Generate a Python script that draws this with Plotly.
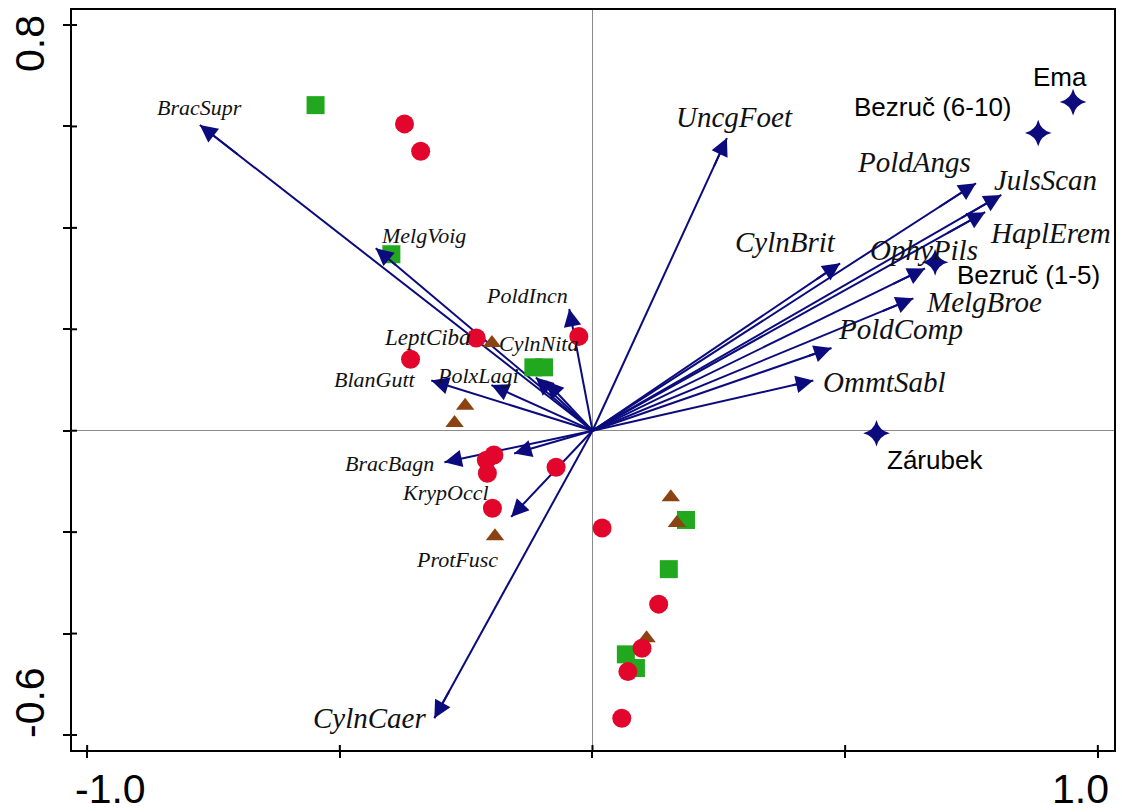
import plotly.graph_objects as go

# ---- species scores (arrow tips) ----
species = ["BracSupr", "MelgVoig", "PoldIncn", "LeptCiba", "CylnNita", "PolxLagi",
           "BlanGutt", "BracBagn", "KrypOccl", "ProtFusc", "CylnCaer", "UncgFoet",
           "PoldAngs", "JulsScan", "HaplErem", "OphyPils", "CylnBrit", "MelgBroe",
           "PoldComp", "OmmtSabl"]
species_x = [-0.777, -0.429, -0.046, -0.112, -0.092, -0.200, -0.319, -0.293, -0.155,
             -0.161, -0.313, 0.266, 0.759, 0.809, 0.777, 0.658, 0.490, 0.635, 0.473, 0.437]
species_y = [0.603, 0.360, 0.240, 0.105, 0.098, 0.090, 0.099, -0.062, -0.045,
             -0.170, -0.567, 0.577, 0.488, 0.465, 0.431, 0.320, 0.330, 0.261, 0.163, 0.099]

# ---- sample scores, three groups ----
circles_x = [-0.372, -0.340, -0.230, -0.360, -0.027, -0.195, -0.210, -0.208, -0.198,
             -0.072, 0.019, 0.131, 0.098, 0.070, 0.058]
circles_y = [0.605, 0.551, 0.183, 0.141, 0.186, -0.048, -0.058, -0.084, -0.153,
             -0.072, -0.192, -0.342, -0.429, -0.475, -0.567]
squares_x = [-0.548, -0.398, -0.117, -0.096, 0.185, 0.151, 0.066, 0.086]
squares_y = [0.642, 0.348, 0.125, 0.125, -0.176, -0.273, -0.441, -0.468]
triangles_x = [-0.199, -0.252, -0.273, -0.193, 0.155, 0.167, 0.107]
triangles_y = [0.173, 0.049, 0.015, -0.208, -0.131, -0.182, -0.409]

# ---- supplementary (site) variables ----
sites = ["Ema", "Bezruč (6-10)", "Bezruč (1-5)", "Zárubek"]
sites_x = [0.951, 0.882, 0.678, 0.562]
sites_y = [0.648, 0.587, 0.332, -0.005]

# ---- axis ticks ----
x_ticks = [-1.0, -0.5, 0.0, 0.5, 1.0]
y_ticks = [-0.6, -0.4, -0.2, 0.0, 0.2, 0.4, 0.6, 0.8]
x_tick_labels = {-1.0: "-1.0", 1.0: "1.0"}
y_tick_labels = {0.8: "0.8", -0.6: "-0.6"}

# ---- styling ----
NAVY = "#0b0b7d"
RED = "#e2062c"
GREEN = "#22a81e"
BROWN = "#8b4312"
SERIF = "Liberation Serif, Times New Roman, serif"
SANS = "Liberation Sans, Arial, sans-serif"

# label placement relative to the arrow tip: (dx, dy) in px (dy downwards), font size
species_label_style = {
    "BracSupr": (0, -17, 22), "MelgVoig": (48, -13, 22), "PoldIncn": (-42, -14, 22),
    "LeptCiba": (-108, -40, 23), "CylnNita": (-8, -38, 22), "PolxLagi": (-13, -10, 22),
    "BlanGutt": (-56, -1, 22), "BracBagn": (-55, 1, 22), "KrypOccl": (-69, 39, 22),
    "ProtFusc": (-54, 43, 22), "CylnCaer": (-65, 0, 29), "UncgFoet": (8, -21, 29),
    "PoldAngs": (-62, -21, 29), "JulsScan": (44, -15, 29), "HaplErem": (65, 21, 29),
    "OphyPils": (-1, -18, 29), "CylnBrit": (-55, -21, 29), "MelgBroe": (71, 4, 29),
    "PoldComp": (69, -19, 29), "OmmtSabl": (71, 1, 29),
}
site_label_offset = {
    "Ema": (-13, -25), "Bezruč (6-10)": (-105, -26),
    "Bezruč (1-5)": (93, 13), "Zárubek": (59, 27),
}

fig = go.Figure()

# arrow shafts from the origin to each species score
ax, ay = [], []
for sx, sy in zip(species_x, species_y):
    ax += [0, sx, None]
    ay += [0, sy, None]
fig.add_trace(go.Scatter(
    x=ax, y=ay, mode="lines", hoverinfo="skip", showlegend=False,
    line=dict(color=NAVY, width=2),
))

fig.add_trace(go.Scatter(
    x=squares_x, y=squares_y, mode="markers", showlegend=False,
    marker=dict(symbol="square", size=18, color=GREEN, line=dict(width=0)),
))
fig.add_trace(go.Scatter(
    x=triangles_x, y=triangles_y, mode="markers", showlegend=False,
    marker=dict(symbol="triangle-up", size=16, color=BROWN, line=dict(width=0)),
))
fig.add_trace(go.Scatter(
    x=circles_x, y=circles_y, mode="markers", showlegend=False,
    marker=dict(symbol="circle", size=19, color=RED, line=dict(width=0)),
))
fig.add_trace(go.Scatter(
    x=sites_x, y=sites_y, mode="markers", showlegend=False,
    marker=dict(symbol="star-diamond", size=19, color=NAVY, line=dict(width=0)),
))

annotations = []
# arrowheads at the species scores, pointing away from the origin
for sx, sy in zip(species_x, species_y):
    annotations.append(dict(
        x=sx, y=sy, ax=0.9 * sx, ay=0.9 * sy, xref="x", yref="y",
        axref="x", ayref="y", text="", showarrow=True,
        arrowhead=2, arrowsize=1.75, arrowwidth=2, arrowcolor=NAVY,
    ))
for name, sx, sy in zip(species, species_x, species_y):
    dx, dy, fs = species_label_style[name]
    annotations.append(dict(
        x=sx, y=sy, xref="x", yref="y", text=name, showarrow=False,
        xanchor="center", yanchor="middle", xshift=dx, yshift=-dy,
        font=dict(family=SERIF, size=fs, color="#111111", style="italic"),
    ))
for name, sx, sy in zip(sites, sites_x, sites_y):
    dx, dy = site_label_offset[name]
    annotations.append(dict(
        x=sx, y=sy, xref="x", yref="y", text=name, showarrow=False,
        xanchor="center", yanchor="middle", xshift=dx, yshift=-dy,
        font=dict(family=SANS, size=26, color="#000000"),
    ))

# end tick labels of each axis
for v, t in x_tick_labels.items():
    annotations.append(dict(
        x=v, y=0, xref="x", yref="paper", text=t, showarrow=False,
        xanchor="center", yanchor="middle",
        xshift=23 if v < 0 else -17, yshift=-39,
        font=dict(family=SANS, size=41, color="#000000"),
    ))
for v, t in y_tick_labels.items():
    annotations.append(dict(
        x=0, y=v, xref="paper", yref="y", text=t, showarrow=False, textangle=-90,
        xanchor="center", yanchor="middle",
        xshift=-42, yshift=-19 if v > 0 else 32,
        font=dict(family=SANS, size=41, color="#000000"),
    ))

# inner half of the crossing tick marks
shapes = []
for v in x_ticks:
    shapes.append(dict(type="line", xref="x", yref="paper", x0=v, x1=v,
                       y0=0, y1=5 / 740, line=dict(color="black", width=2)))
for v in y_ticks:
    shapes.append(dict(type="line", xref="paper", yref="y", x0=0, x1=5 / 1044,
                       y0=v, y1=v, line=dict(color="black", width=2)))

fig.update_layout(
    width=1122, height=812,
    margin=dict(l=72, r=6, t=10, b=62),
    paper_bgcolor="white", plot_bgcolor="white",
    annotations=annotations, shapes=shapes,
    xaxis=dict(range=[-1.03, 1.032], tickvals=x_ticks, showticklabels=False,
               ticks="outside", ticklen=6, tickwidth=2, tickcolor="black",
               showgrid=False, zeroline=True, zerolinecolor="#8c8c8c", zerolinewidth=1,
               showline=True, mirror=True, linecolor="black", linewidth=2),
    yaxis=dict(range=[-0.6296, 0.8296], tickvals=y_ticks, showticklabels=False,
               ticks="outside", ticklen=7, tickwidth=2, tickcolor="black",
               showgrid=False, zeroline=True, zerolinecolor="#8c8c8c", zerolinewidth=1,
               showline=True, mirror=True, linecolor="black", linewidth=2),
)

fig.write_html("out.html")
